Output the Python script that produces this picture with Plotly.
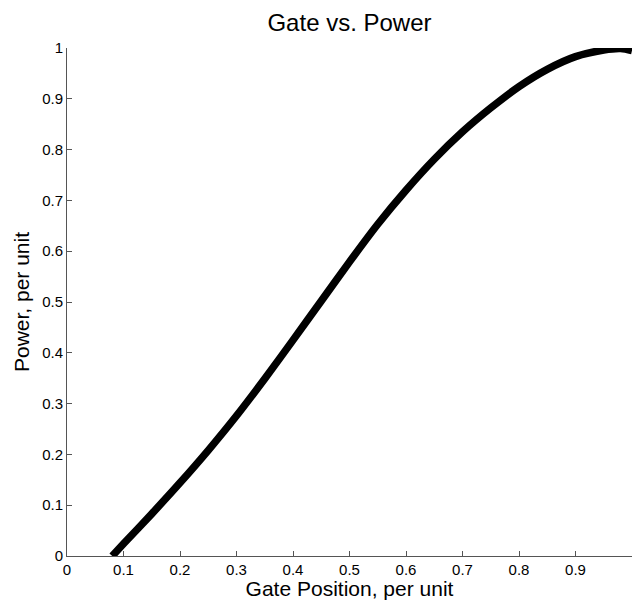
import plotly.graph_objects as go

# Gate position (per unit) and resulting power output (per unit)
gate_position = [0.08, 0.10, 0.15, 0.20, 0.25, 0.30, 0.35, 0.40, 0.45, 0.50,
                 0.55, 0.60, 0.65, 0.70, 0.75, 0.80, 0.85, 0.90, 0.95, 0.98,
                 1.00]
power = [0.0, 0.024, 0.083, 0.144, 0.208, 0.276, 0.349, 0.425, 0.502, 0.579,
         0.653, 0.720, 0.781, 0.835, 0.882, 0.924, 0.958, 0.983, 0.996, 0.999,
         0.995]

x_ticks = [0, 0.1, 0.2, 0.3, 0.4, 0.5, 0.6, 0.7, 0.8, 0.9, 1]
x_tick_text = ["0", "0.1", "0.2", "0.3", "0.4", "0.5", "0.6", "0.7", "0.8", "0.9", "1"]
y_ticks = [0, 0.1, 0.2, 0.3, 0.4, 0.5, 0.6, 0.7, 0.8, 0.9, 1]
y_tick_text = ["0", "0.1", "0.2", "0.3", "0.4", "0.5", "0.6", "0.7", "0.8", "0.9", "1"]

FONT = "Liberation Sans, Arial, sans-serif"

fig = go.Figure()
fig.add_trace(go.Scatter(
    x=gate_position, y=power, mode="lines",
    line=dict(color="black", width=7.5, shape="spline", smoothing=0.8),
    hoverinfo="skip", showlegend=False,
))

axis_common = dict(
    showgrid=False, zeroline=False, showline=True, linecolor="#555555", linewidth=1,
    ticks="inside", ticklen=5, tickcolor="#555555", tickwidth=1,
    tickfont=dict(family=FONT, size=15, color="black"),
    mirror=False,
)

fig.update_layout(
    width=632, height=600,
    margin=dict(l=67, r=0, t=48, b=44),
    paper_bgcolor="white", plot_bgcolor="white",
    title=dict(text="Gate vs. Power", x=0.553, xanchor="center", y=0.962, yanchor="middle",
               font=dict(family=FONT, size=24, color="black")),
    xaxis=dict(range=[0, 1], tickvals=x_ticks, ticktext=x_tick_text,
               title=dict(text="Gate Position, per unit", standoff=3,
                          font=dict(family=FONT, size=21, color="black")),
               **axis_common),
    yaxis=dict(range=[0, 1], tickvals=y_ticks, ticktext=y_tick_text,
               title=dict(text="Power, per unit", standoff=6,
                          font=dict(family=FONT, size=21, color="black")),
               **axis_common),
)

fig.write_html("out.html")
